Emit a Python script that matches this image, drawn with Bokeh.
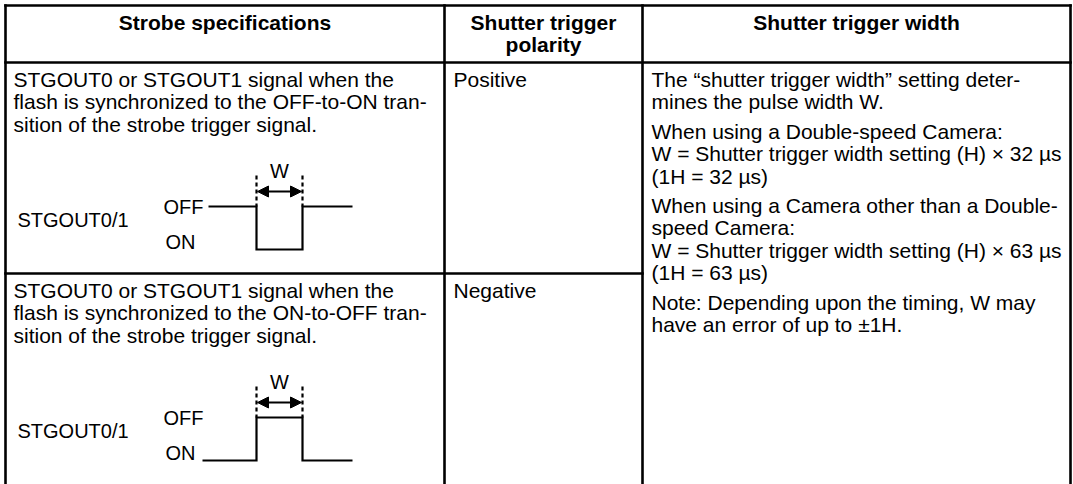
from bokeh.plotting import figure
from bokeh.models import Range1d, Arrow, NormalHead
from bokeh.core.properties import value
from bokeh.embed import file_html
from bokeh.resources import INLINE

# ---------------- table content ----------------
header_titles = [["Strobe specifications"], ["Shutter trigger", "polarity"], ["Shutter trigger width"]]

strobe_specs = [
    ["STGOUT0 or STGOUT1 signal when the",
     "flash is synchronized to the OFF-to-ON tran-",
     "sition of the strobe trigger signal."],
    ["STGOUT0 or STGOUT1 signal when the",
     "flash is synchronized to the ON-to-OFF tran-",
     "sition of the strobe trigger signal."],
]
polarity = ["Positive", "Negative"]
width_paragraphs = [
    ["The \u201cshutter trigger width\u201d setting deter-", "mines the pulse width W."],
    ["When using a Double-speed Camera:",
     "W = Shutter trigger width setting (H) \u00d7 32 \u00b5s",
     "(1H = 32 \u00b5s)"],
    ["When using a Camera other than a Double-", "speed Camera:",
     "W = Shutter trigger width setting (H) \u00d7 63 \u00b5s",
     "(1H = 63 \u00b5s)"],
    ["Note: Depending upon the timing, W may", "have an error of up to \u00b11H."],
]
signal_name = "STGOUT0/1"
signal_levels = [["OFF", "ON", "OFF"], ["ON", "OFF", "ON"]]
level_labels = ["OFF", "ON"]
pulse_label = "W"

# ---------------- layout (pixel coordinates) ----------------
FONT = value("Liberation Sans")
FS = "21px"
FS_DIAG = "20px"
X_LEFT, X_C1, X_C2, X_RIGHT = 5, 444, 642, 1070
Y_TOP, Y_HEAD, Y_BOTTOM = 5, 62, 490
ROW_TOPS = [62, 273]
LINE = 22.4
PARA = 7.0
PAD_X = 8
FIRST = 17

W, H = 1073, 484
p = figure(width=W, height=H, output_backend="svg", toolbar_location=None,
           x_range=Range1d(0, W), y_range=Range1d(H, 0),
           x_axis_type=None, y_axis_type=None, min_border=0)
p.grid.visible = False
p.outline_line_color = None
p.background_fill_color = "white"
p.border_fill_color = "white"

def txt(xs, ys, ts, align="left", bold=False, size=FS):
    p.text(x=xs, y=ys, text=ts, text_font=FONT, text_font_size=size,
           text_baseline="middle", text_align=align, text_color="black",
           text_font_style="bold" if bold else "normal")

# table rules
lw = 2.6
p.segment(x0=[X_LEFT, X_LEFT, X_LEFT, X_LEFT, X_C1, X_C2, X_RIGHT],
          y0=[Y_TOP, Y_HEAD, ROW_TOPS[1], Y_TOP, Y_TOP, Y_TOP, Y_TOP],
          x1=[X_RIGHT, X_RIGHT, X_C2, X_LEFT, X_C1, X_C2, X_RIGHT],
          y1=[Y_TOP, Y_HEAD, ROW_TOPS[1], Y_BOTTOM, Y_BOTTOM, Y_BOTTOM, Y_BOTTOM],
          line_width=lw, line_color="black", line_cap="square")

# header
centers = [(X_LEFT + X_C1) / 2, (X_C1 + X_C2) / 2, (X_C2 + X_RIGHT) / 2]
hx, hy, ht = [], [], []
for cx, lines in zip(centers, header_titles):
    for i, t in enumerate(lines):
        hx.append(cx); hy.append(22 + i * LINE); ht.append(t)
txt(hx, hy, ht, align="center", bold=True)

# column 1 + 2 rows
bx, by, bt = [], [], []
for r, top in enumerate(ROW_TOPS):
    for i, t in enumerate(strobe_specs[r]):
        bx.append(X_LEFT + PAD_X); by.append(top + FIRST + i * LINE); bt.append(t)
    bx.append(X_C1 + PAD_X + 1); by.append(top + FIRST); bt.append(polarity[r])

# column 3 (spans both rows)
y = ROW_TOPS[0] + FIRST
for para in width_paragraphs:
    for t in para:
        bx.append(X_C2 + PAD_X + 1); by.append(y); bt.append(t)
        y += LINE
    y += PARA
txt(bx, by, bt)

# timing diagrams
EDGE_X = [208, 256, 302, 352]
for r, top in enumerate(ROW_TOPS):
    hi = top + 144
    lo = top + 187
    lev = {"OFF": hi, "ON": lo}
    xs, ys = [], []
    for k, name in enumerate(signal_levels[r]):
        x0 = EDGE_X[k] - (6 if (k == 0 and name == "ON") else 0)
        xs += [x0, EDGE_X[k + 1]]
        ys += [lev[name], lev[name]]
    p.line(xs, ys, line_width=2.2, line_color="black", line_join="miter")
    # dashed markers
    p.segment(x0=[EDGE_X[1], EDGE_X[2]], y0=[top + 113] * 2,
              x1=[EDGE_X[1], EDGE_X[2]], y1=[hi] * 2,
              line_width=2.2, line_color="black", line_dash="4 3")
    ay = top + 129
    p.add_layout(Arrow(start=NormalHead(size=11, fill_color="black", line_color="black"),
                       end=NormalHead(size=11, fill_color="black", line_color="black"),
                       x_start=EDGE_X[1] + 1, y_start=ay, x_end=EDGE_X[2] - 1, y_end=ay,
                       line_width=1.8, line_color="black"))
    txt([(EDGE_X[1] + EDGE_X[2]) / 2], [top + 108], [pulse_label], align="center", size=FS_DIAG)
    txt([163, 165], [hi, lo - 8], level_labels, size=FS_DIAG)
    txt([X_LEFT + PAD_X + 4], [hi + 13], [signal_name], size=FS_DIAG)

open("out.html", "w").write(file_html(p, INLINE))
